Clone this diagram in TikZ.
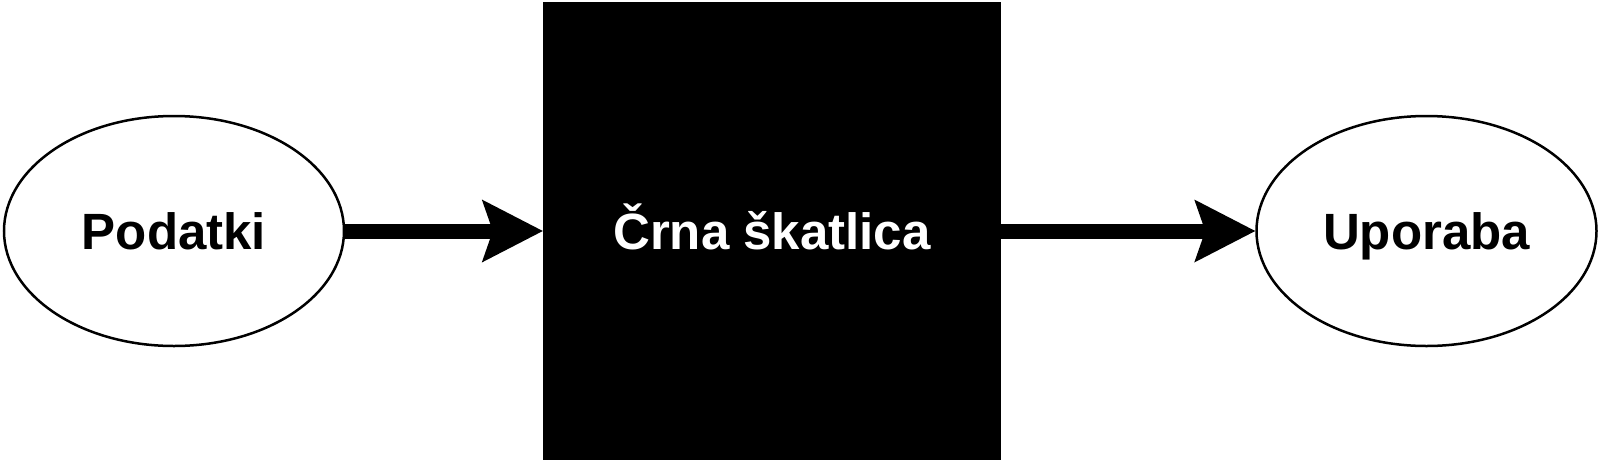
\documentclass[tikz,border=0pt]{standalone}
\usepackage{fontspec}
\setmainfont{Liberation Sans}
\usetikzlibrary{shapes.geometric,arrows.meta}
\begin{document}
\begin{tikzpicture}[x=1pt,y=-1pt,
  lbl/.style={font=\fontsize{51pt}{60pt}\selectfont\bfseries, text height=36.5pt, text depth=0pt, inner sep=0pt},
  oval/.style={ellipse, draw=black, line width=2.5pt, fill=white, minimum width=340pt, minimum height=230pt, lbl},
  blackbox/.style={rectangle, fill=black, minimum width=458pt, minimum height=458pt, lbl, text=white},
  bigarrow/.style={line width=15pt, -{Stealth[length=61pt, width=63pt, inset=11pt, line width=0pt]}}
]
\useasboundingbox (0,0) rectangle (1600,461);
\node[oval] (pod) at (174,231) {Podatki};
\node[blackbox] (box) at (772,231) {Črna škatlica};
\node[oval] (upo) at (1426.5,231) {Uporaba};
\draw[bigarrow] (pod.east) -- (box.west);
\draw[bigarrow] (box.east) -- (upo.west);
\end{tikzpicture}
\end{document}
